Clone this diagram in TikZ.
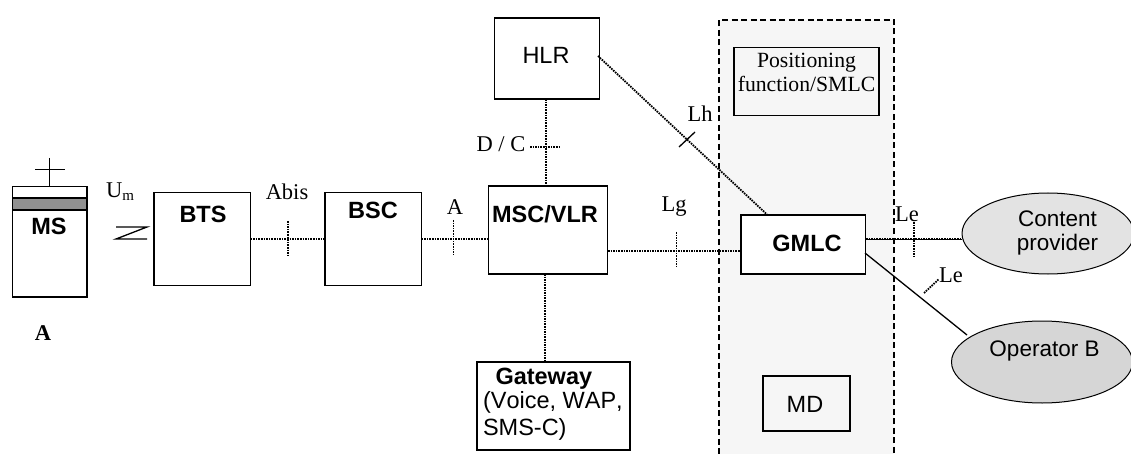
\documentclass[tikz,border=0pt]{standalone}
\usepackage{fontspec}
\setmainfont{Liberation Serif}
\newfontfamily\arialf{Liberation Sans}
\newfontfamily\arialnk[Kerning=Off]{Liberation Sans}
\usetikzlibrary{shapes.geometric,calc}
\tikzset{
  every node/.style={inner sep=0pt,outer sep=0pt},
  box/.style={draw=black,line width=1.5pt,fill=white,rectangle},
  thinbox/.style={draw=black,line width=1.1pt,rectangle},
  cloud1/.style={draw=black,line width=1pt,ellipse},
  sans/.style={font=\arialf\fontsize{23.5}{24}\selectfont,align=left},
  sanslight/.style={font=\arialf\fontsize{22.5}{24}\selectfont,align=center},
  sansb/.style={font=\arialf\bfseries\fontsize{23.5}{24}\selectfont,align=left},
  serif/.style={font=\fontsize{22.5}{24}\selectfont,align=center},
  dotline/.style={line width=1.8pt,dash pattern=on 1.6pt off 1pt},
  solidline/.style={line width=1.3pt,draw=black},
}
\begin{document}
\begin{tikzpicture}[x=1pt,y=-1pt]
\useasboundingbox (0,0) rectangle (1131,454);
% Dashed region
\path[fill=black!3.5] (719,20) rectangle (894,454);
\coordinate (dtl) at (719,20);
\coordinate (dtr) at (894,20);
\coordinate (dbl) at (719,454);
\coordinate (dbr) at (894,454);
% Boxes
\node[box,minimum width=74.5pt,minimum height=110.5pt] (ms) at (49.7,241.7) {};
\node[draw=black,line width=1.2pt,fill=black!43,minimum width=74.5pt,minimum height=12pt] (band) at (49.7,204) {};
\node[sansb] (mslabel) at (49,226) {MS};
\node[box,minimum width=96.5pt,minimum height=93pt] (bts) at (202.3,239) {};
\node[sansb] at (203,214) {BTS};
\node[box,minimum width=96.5pt,minimum height=93pt] (bsc) at (373.4,239) {};
\node[sansb] at (373,210) {BSC};
\node[box,minimum width=119.2pt,minimum height=88pt] (msc) at (547.9,230) {};
\node[sansb] at (545,214) {MSC/VLR};
\node[box,minimum width=105pt,minimum height=81pt] (hlr) at (547,58.5) {};
\node[sans] at (546,55) {HLR};
\node[box,minimum width=153pt,minimum height=88pt] (gw) at (553.5,406) {};
\node[sansb,anchor=west] at (495.5,378.5) {Gateway};
\node[font=\arialnk\fontsize{23.5}{24}\selectfont,anchor=west] at (483,402.5) {(Voice, WAP,};
\node[sans,anchor=west] at (483,429) {SMS-C)};
\node[thinbox,minimum width=145pt,minimum height=68.5pt] (pos) at (806.5,81.7) {};
\node[serif,font=\fontsize{21.7}{24}\selectfont] at (806.5,72) {Positioning\\function/SMLC};
\node[box,minimum width=124.5pt,minimum height=59pt] (gmlc) at (803.2,244.5) {};
\node[sansb] at (807,243.5) {GMLC};
\node[thinbox,minimum width=87pt,minimum height=55pt] (md) at (806.5,403.5) {};
\node[sans] at (805,404) {MD};
\node[cloud1,fill=black!11,minimum width=172pt,minimum height=81pt] (cp) at (1048,233.5) {};
\node[sanslight] at (1057.5,233) {Content\\provider};
\node[cloud1,fill=black!16,minimum width=181pt,minimum height=82pt] (opb) at (1042,362) {};
\node[sanslight] at (1044.5,351) {Operator B};
% Dashed border
\draw[line width=2.4pt,dash pattern=on 6pt off 3.5pt] (dbl) -- (dtl) -- (dtr) -- (dbr);
% Antenna
\coordinate (anttop) at (49.7,158);
\coordinate (antl) at (35,169.5);
\coordinate (antr) at (65,169.5);
\draw[solidline] (anttop) -- (49.7,186.5);
\draw[solidline] (antl) -- (antr);
% Radio symbol
\coordinate (za) at (116,227); \coordinate (zb) at (147,227);
\coordinate (zc) at (116,239); \coordinate (zd) at (147,239);
\draw[solidline] (za) -- (zb) -- (zc) -- (zd);
% Connectors
\draw[dotline] (bts.east) -- (bsc.west);
\coordinate (t1a) at (288,221); \coordinate (t1b) at (288,257);
\draw[dotline] (t1a) -- (t1b);
\draw[dotline] (bsc.east) -- (msc.west |- bsc.east);
\coordinate (t2a) at (453.5,220); \coordinate (t2b) at (453.5,256);
\draw[dotline] (t2a) -- (t2b);
\coordinate (hb) at (546,99); \coordinate (mt) at (546,186);
\draw[dotline] (hb) -- (mt);
\coordinate (dc1) at (530,147); \coordinate (dc2) at (560,147);
\draw[dotline] (dc1) -- (dc2);
\coordinate (mb) at (545,274); \coordinate (gt) at (545,362);
\draw[dotline] (mb) -- (gt);
\coordinate (lg1) at (608,251); \coordinate (lg2) at (742,251);
\draw[dotline] (lg1) -- (lg2);
\coordinate (t3a) at (676.5,232); \coordinate (t3b) at (676.5,267);
\draw[dotline] (t3a) -- (t3b);
\coordinate (hr) at (598,56); \coordinate (gtop) at (767,214.5);
\draw[dotline] (hr) -- (gtop);
\coordinate (t4a) at (679,147); \coordinate (t4b) at (695,132);
\draw[solidline] (t4a) -- (t4b);
\coordinate (g1) at (866,239);
\draw[dotline] (g1) -- (cp.west |- g1);
\draw[line width=.8pt] (g1) -- (cp.west |- g1);
\coordinate (t5a) at (913.7,222); \coordinate (t5b) at (913.7,258);
\draw[dotline] (t5a) -- (t5b);
\coordinate (g2) at (865,253); \coordinate (o2) at (967,335);
\draw[solidline] (g2) -- (o2);
\coordinate (t6a) at (924,293); \coordinate (t6b) at (939,279);
\draw[dotline] (t6a) -- (t6b);
% Labels
\node[serif] at (120,192) {U\raisebox{-3pt}{\fontsize{15}{15}\selectfont m}};
\node[serif] at (287,192) {Abis};
\node[serif] at (455,207) {A};
\node[serif] at (501,144.5) {D / C};
\node[serif] at (700,114) {Lh};
\node[serif] at (674,207) {Lg};
\node[serif] at (907,214) {Le};
\node[serif] at (951,275) {Le};
\node[font=\bfseries\fontsize{22.5}{24}\selectfont] at (43,333) {A};
\end{tikzpicture}
\end{document}
